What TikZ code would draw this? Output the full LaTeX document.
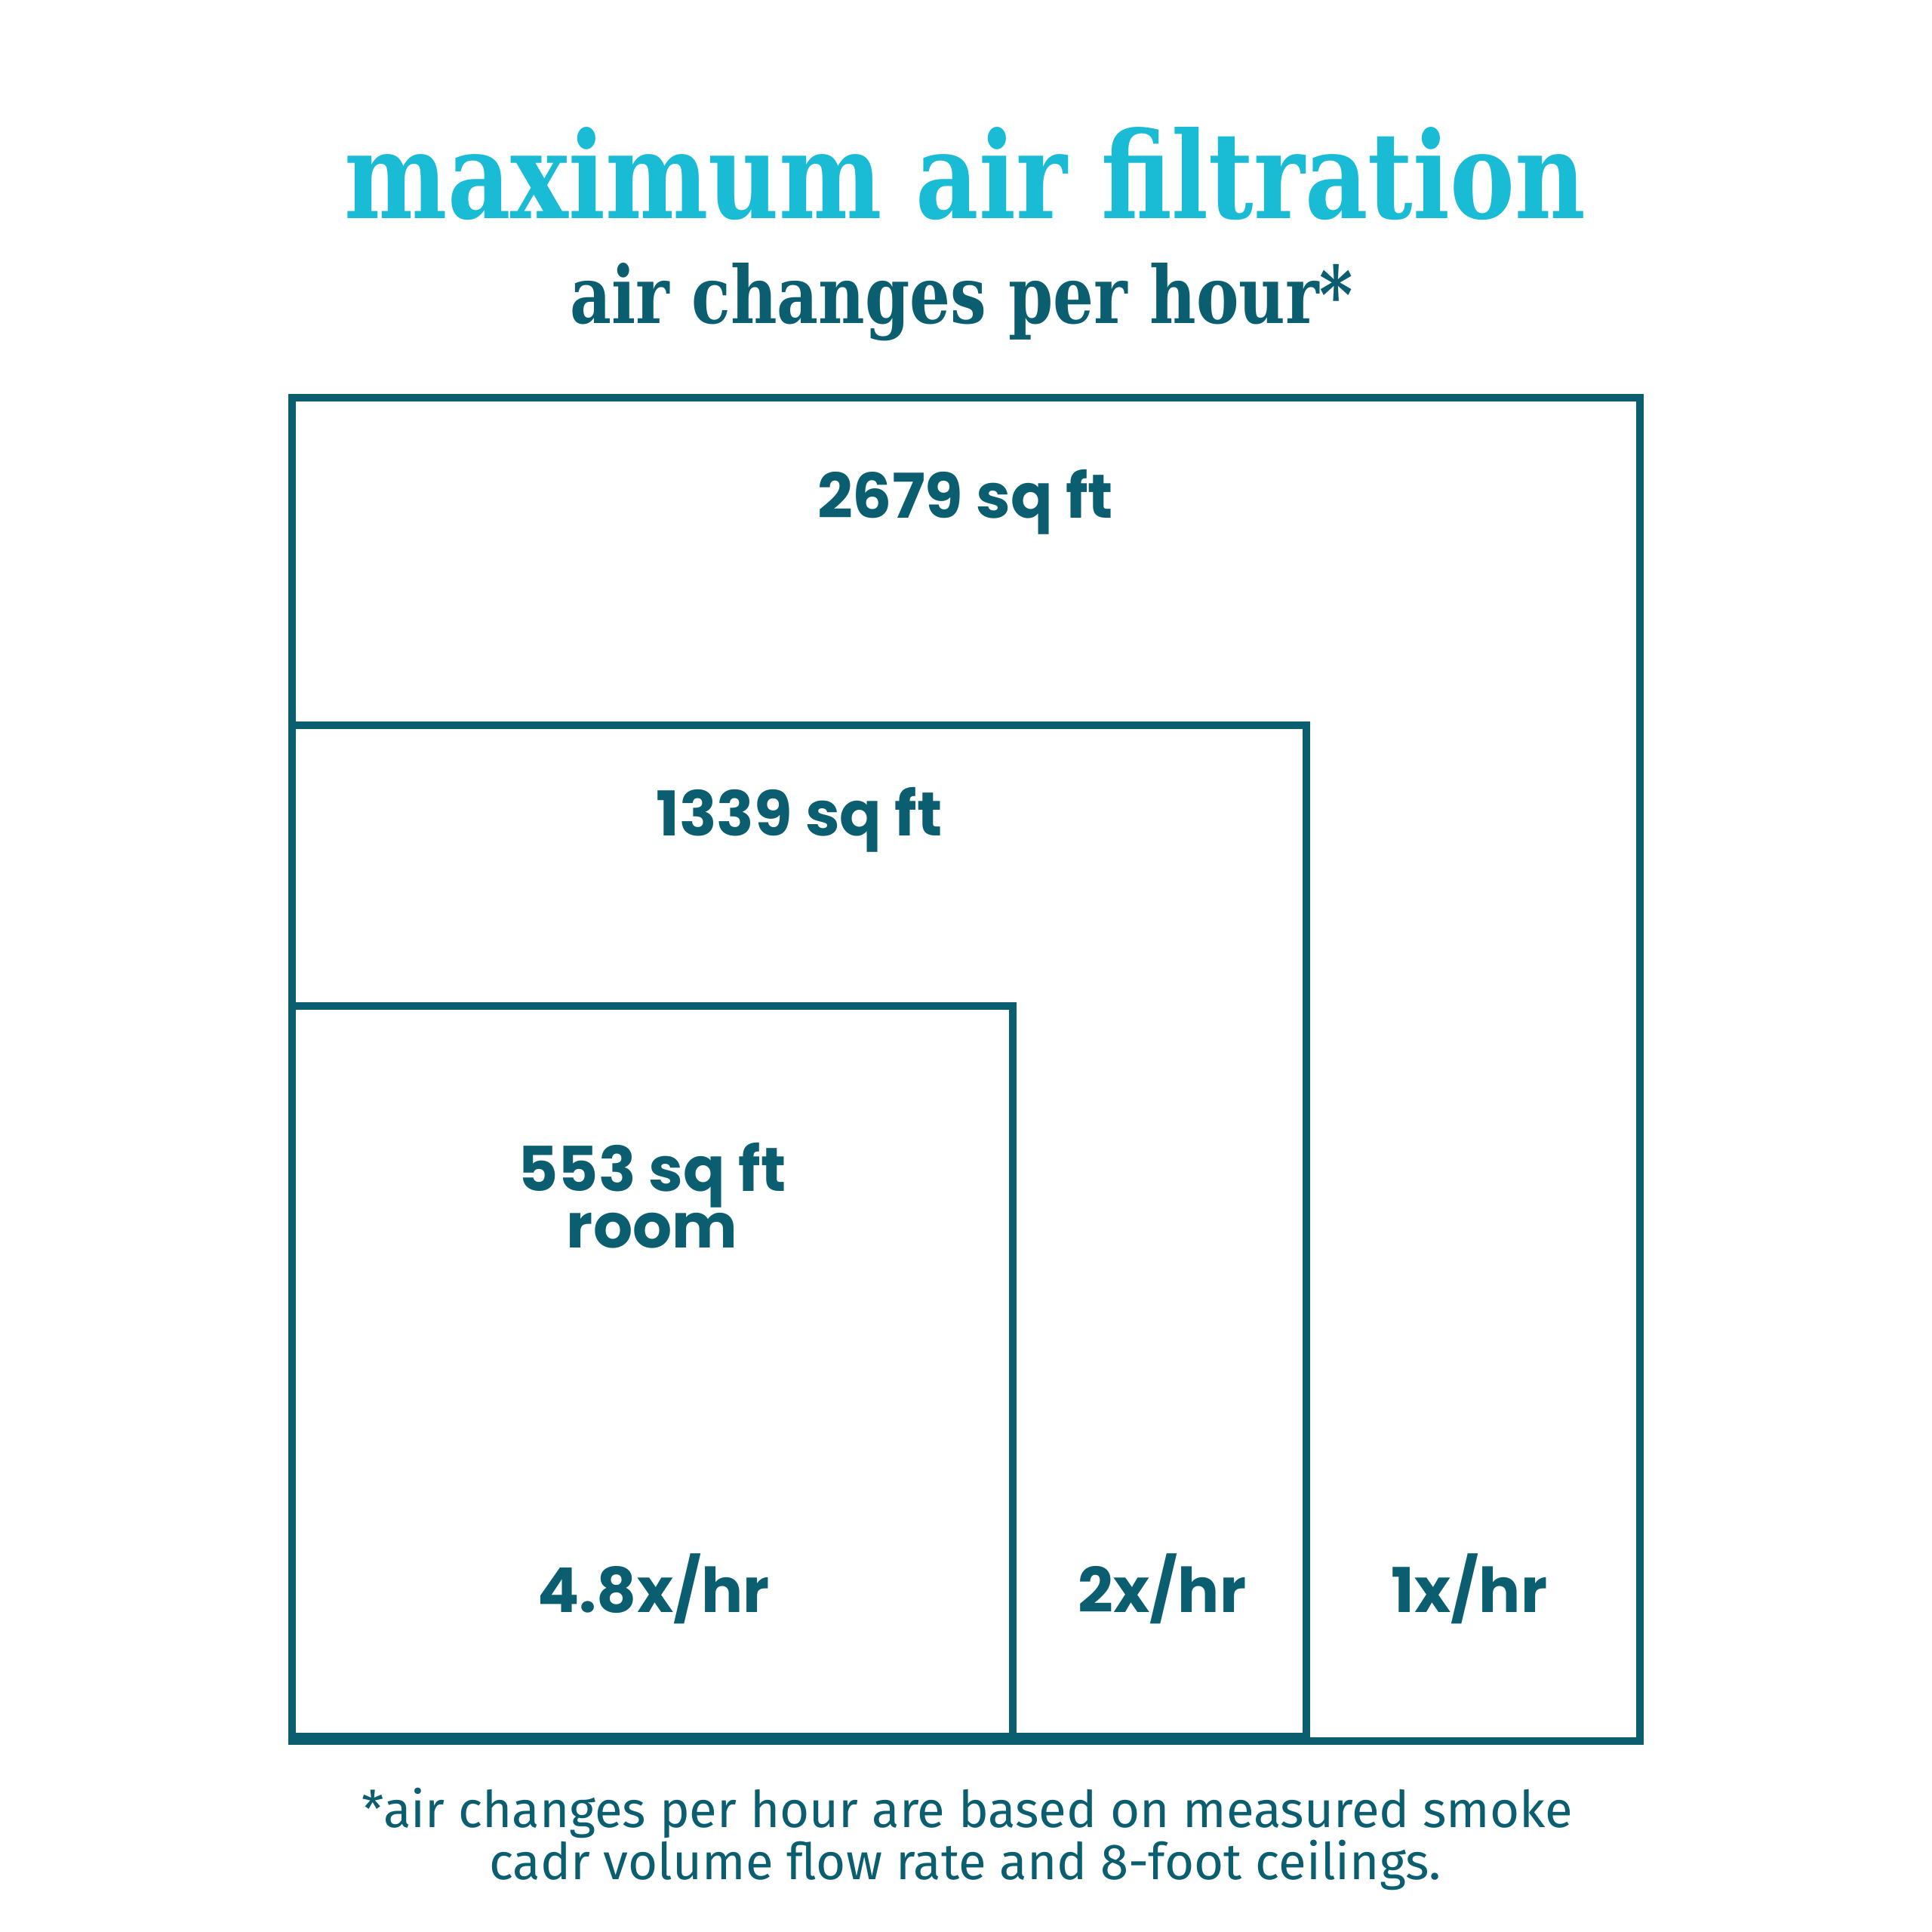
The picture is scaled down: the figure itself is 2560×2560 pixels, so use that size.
\documentclass[tikz,border=0pt]{standalone}
\usepackage{fontspec}
\usepackage{graphicx}
\setmainfont{DejaVu Serif}
\newfontfamily\labelfont{Poppins}
\newfontfamily\notefont{Fira Sans}
\usetikzlibrary{positioning}
\definecolor{acTealLine}{HTML}{0A5E6F}
\definecolor{acCyanText}{HTML}{1ABBD5}

\begin{document}
\begin{tikzpicture}[x=0.1mm, y=-0.1mm,
  roomline/.style={draw=acTealLine, line width=1mm},
  areatext/.style={anchor=base, inner sep=0pt, text=acTealLine,
    font=\labelfont\bfseries\fontsize{23.3}{27}\selectfont},
  notetext/.style={anchor=base, inner sep=0pt, text=acTealLine,
    font=\notefont\fontsize{19.1}{23}\selectfont}]

\useasboundingbox[fill=white] (0,0) rectangle (2560,2560);

% --- HEADINGS ---
\node[anchor=base, inner sep=0pt, text=acCyanText, font=\bfseries]
  (title) at (1279,289) {\resizebox{164.4mm}{12.1mm}{maximum air filtration}};
\node[anchor=base, inner sep=0pt, text=acTealLine, font=\bfseries]
  (subtitle) at (1274,428) {\resizebox{103.7mm}{8.0mm}{air changes per hour*}};

% --- ROOM OUTLINES (largest first) ---
\draw[roomline] (387,527) rectangle (2173,2307);   % 1x/hr
\draw[roomline] (387,961) rectangle (1731,2301);   % 2x/hr
\draw[roomline] (387,1333) rectangle (1342,2301);  % 4.8x/hr

% --- AREAS ---
\node[areatext] (areaLarge) at (1279,686) {2679 sq ft};
\node[areatext] (areaMid) at (1059,1107) {1339 sq ft};
\node[areatext] (areaSmall) at (864,1578) {553 sq ft};
\node[areatext] (roomWord) at (864,1653) {room};

% --- RATES ---
\node[areatext] (rateSmall) at (866,2136) {4.8x/hr};
\node[areatext] (rateMid) at (1540,2136) {2x/hr};
\node[areatext] (rateLarge) at (1947,2136) {1x/hr};

% --- FOOTNOTE ---
\node[notetext] (noteA) at (1282,2421)
  {*air changes per hour are based on measured smoke};
\node[notetext] (noteB) at (1279,2490)
  {cadr volume flow rate and 8-foot ceilings.};

\end{tikzpicture}
\end{document}
